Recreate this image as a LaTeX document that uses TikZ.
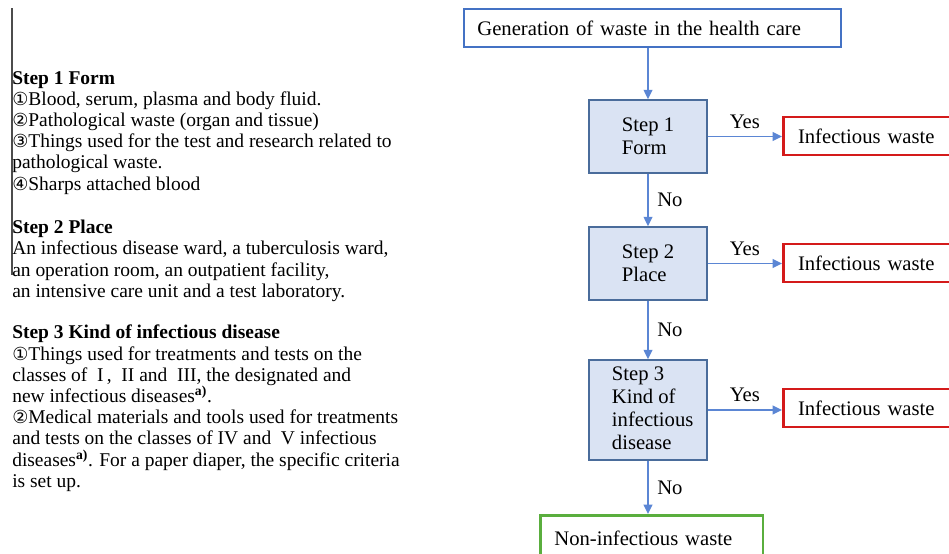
\documentclass[tikz,border=0pt]{standalone}
\usepackage{fontspec}
\setmainfont{Liberation Serif}
\newfontfamily\circfont{DejaVu Sans}
\usetikzlibrary{arrows.meta}

\definecolor{topblue}{HTML}{4472C4}
\definecolor{stepfill}{HTML}{DAE3F3}
\definecolor{stepline}{HTML}{4A6C9B}
\definecolor{flowblue}{HTML}{5B86D4}
\definecolor{infred}{HTML}{D41A1A}
\definecolor{nongreen}{HTML}{5AAE3E}

\newcommand{\circled}[1]{{\circfont\fontsize{13.5}{13.5}\selectfont #1}}
\newcommand{\supa}{\textsuperscript{\textbf{a)}}}

\begin{document}
\begin{tikzpicture}[x=0.75pt, y=-0.75pt, >={Triangle[length=7pt, width=6.5pt]},
  every node/.style={font=\fontsize{15.5}{17.25}\selectfont},
  notes/.style={anchor=north west, inner sep=0pt, align=left, font=\fontsize{14.6}{15.9}\selectfont},
  topbox/.style={draw=topblue, line width=1.5pt, anchor=north west, inner xsep=10pt, text width=263pt, minimum height=28.5pt, align=left},
  stepbox/.style={draw=stepline, fill=stepfill, line width=1.2pt, minimum width=88.5pt, inner sep=0pt, align=left},
  infbox/.style={draw=infred, line width=2pt, anchor=west, inner xsep=11pt, text width=115pt, minimum height=28.5pt, align=left},
  nonbox/.style={draw=nongreen, line width=2pt, anchor=north west, inner xsep=10.5pt, text width=146pt, minimum height=35pt, align=left},
  flow/.style={->, draw=flowblue, line width=1.2pt}]
  \useasboundingbox (0,0) rectangle (949,553);
  \clip (0,0) rectangle (949,553);
  % left column: the criteria of each step
  \draw[black!70, line width=0.8pt] (12,8) -- (12,275);
  \node[notes] (form) at (12,71) {\textbf{Step 1 Form}\\
    \circled{①}Blood, serum, plasma and body fluid.\\
    \circled{②}Pathological waste (organ and tissue)\\
    \circled{③}Things used for the test and research related to\\
    pathological waste.\\
    \circled{④}Sharps attached blood};
  \node[notes] (place) at (12,220) {\textbf{Step 2 Place}\\
    An infectious disease ward, a tuberculosis ward,\\
    an operation room, an outpatient facility,\\
    an intensive care unit and a test laboratory.};
  \node[notes] (kind) at (12,325) {\textbf{Step 3 Kind of infectious disease}\\
    \circled{①}Things used for treatments and tests on the\\
    classes of \ I\,,\ \ II and \ III, the designated and\\
    new infectious diseases\supa.\\
    \circled{②}Medical materials and tools used for treatments\\
    and tests on the classes of IV and \ V infectious\\
    diseases\supa. For a paper diaper, the specific criteria\\
    is set up.};
  % right column: the decision chain
  \node[topbox] (gen) at (463,8) {Generation of waste in the health care};
  \node[stepbox, minimum height=54.75pt] (s1) at (648,136.5) {Step 1\\Form};
  \node[stepbox, minimum height=54.75pt] (s2) at (648,263.5) {Step 2\\Place};
  \node[stepbox, minimum height=75pt]    (s3) at (648,410)   {\hspace*{7pt}\begin{tabular}{@{}l@{}}Step 3\\Kind of\\infectious\\disease\end{tabular}};
  \node[infbox] (inf1) at (782,136) {Infectious waste};
  \node[infbox] (inf2) at (782,263) {Infectious waste};
  \node[infbox] (inf3) at (782,408) {Infectious waste};
  \node[nonbox] (non) at (539,514) {Non-infectious waste};
  \draw[flow] (gen.south -| s1) -- (s1);
  \draw[flow] (s1) -- node[right, xshift=3pt] {No} (s2);
  \draw[flow] (s2) -- node[right, xshift=3pt] {No} (s3);
  \draw[flow] (s3) -- node[right, xshift=3pt] {No} (s3 |- non.north);
  \draw[flow] (s1.east) -- node[above, yshift=2pt] {Yes} (s1.east -| inf1.west);
  \draw[flow] (s2.east) -- node[above, yshift=2pt] {Yes} (s2.east -| inf2.west);
  \draw[flow] (s3.east) -- node[above, yshift=2pt] {Yes} (s3.east -| inf3.west);
\end{tikzpicture}
\end{document}
